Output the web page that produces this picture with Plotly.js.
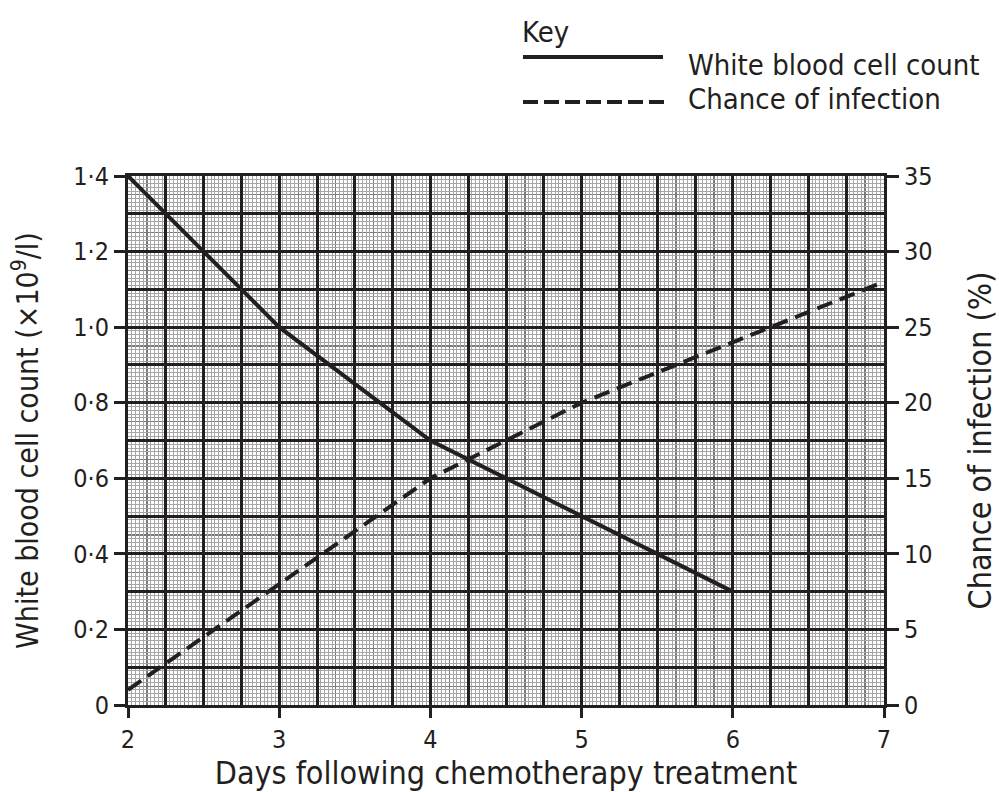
<!DOCTYPE html>
<html>
<head>
<meta charset="utf-8">
<script src="https://cdn.plot.ly/plotly-3.0.1.min.js"></script>
<style>html,body{margin:0;padding:0;background:#fff;}#chart{width:999px;height:792px;}</style>
</head>
<body>
<div id="chart"></div>
<script>
// Data
const days = [2, 3, 4, 5, 6];
const whiteBloodCellCount = [1.4, 1.0, 0.7, 0.5, 0.3];
const infectionDays = [2, 3, 4, 5, 6, 7];
const chanceOfInfection = [1, 8, 15, 20, 24, 28];

const xTickVals = [2, 3, 4, 5, 6, 7];
const xTickText = ['2', '3', '4', '5', '6', '7'];
const leftTickVals = [0, 0.2, 0.4, 0.6, 0.8, 1.0, 1.2, 1.4];
const leftTickText = ['0', '0·2', '0·4', '0·6', '0·8', '1·0', '1·2', '1·4'];
const rightTickVals = [0, 5, 10, 15, 20, 25, 30, 35];
const rightTickText = ['0', '5', '10', '15', '20', '25', '30', '35'];

const FONT = '"DejaVu Sans Condensed", "DejaVu Sans", sans-serif';
const INK = '#231f20';
const FINE = '#a6a6a6';
const MID = '#7a7a7a';

// fine graph-paper positions (every small square, skipping the 5-square lines)
const fineX = [];
for (let k = 0; k <= 200; k++) { if (k % 5 !== 0) fineX.push(2 + k / 40); }
const fineY = [];
for (let k = 0; k <= 140; k++) { if (k % 5 !== 0) fineY.push(k / 100); }

const traces = [
  {
    x: days, y: whiteBloodCellCount, xaxis: 'x', yaxis: 'y',
    type: 'scatter', mode: 'lines', name: 'White blood cell count',
    line: {color: INK, width: 4}, hoverinfo: 'skip'
  },
  {
    x: infectionDays, y: chanceOfInfection, xaxis: 'x', yaxis: 'y3',
    type: 'scatter', mode: 'lines', name: 'Chance of infection',
    line: {color: INK, width: 4, dash: '16px,8px'}, hoverinfo: 'skip'
  },
  // empty helper trace so the graph-paper axes get a subplot
  {x: [], y: [], xaxis: 'x2', yaxis: 'y2', type: 'scatter', mode: 'lines', hoverinfo: 'skip', showlegend: false}
];

const layout = {
  width: 999, height: 792,
  margin: {l: 128, r: 115, t: 176, b: 87},
  paper_bgcolor: '#fff', plot_bgcolor: '#fff',
  showlegend: false,
  font: {family: FONT, size: 25, color: INK},
  // labelled axes
  xaxis: {
    range: [2, 7], tickmode: 'array', tickvals: xTickVals, ticktext: xTickText,
    ticks: 'outside', ticklen: 10, tickwidth: 3, tickcolor: INK,
    showgrid: false, zeroline: false,
    showline: true, linewidth: 3, linecolor: INK, mirror: true,
    tickfont: {family: FONT, size: 25, color: INK},
    title: {text: 'Days following chemotherapy treatment', font: {family: FONT, size: 32, color: INK}, standoff: 4},
    minor: {tick0: 2, dtick: 0.125, ticks: '', showgrid: true, gridcolor: MID, gridwidth: 1.2}
  },
  yaxis: {
    range: [0, 1.4], tickmode: 'array', tickvals: leftTickVals, ticktext: leftTickText,
    ticks: 'outside', ticklen: 11, tickwidth: 3, tickcolor: INK,
    showgrid: false, zeroline: false,
    showline: true, linewidth: 3, linecolor: INK,
    tickfont: {family: FONT, size: 25, color: INK},
    title: {text: 'White blood cell count (×10<sup>9</sup>/l)', font: {family: FONT, size: 30, color: INK}, standoff: 26},
    minor: {tick0: 0, dtick: 0.05, ticks: '', showgrid: true, gridcolor: MID, gridwidth: 1.2}
  },
  yaxis3: {
    overlaying: 'y', anchor: 'x', side: 'right', range: [0, 35],
    tickmode: 'array', tickvals: rightTickVals, ticktext: rightTickText,
    ticks: 'outside', ticklen: 12, tickwidth: 3, tickcolor: INK,
    showgrid: false, zeroline: false,
    showline: true, linewidth: 3, linecolor: INK,
    tickfont: {family: FONT, size: 25, color: INK},
    title: {text: 'Chance of infection (%)', font: {family: FONT, size: 32, color: INK}, standoff: 39}
  },
  // graph-paper axes
  xaxis2: {
    overlaying: 'x', anchor: 'y2', range: [2, 7],
    tickmode: 'linear', tick0: 2, dtick: 0.25,
    showgrid: true, gridcolor: INK, gridwidth: 3,
    showticklabels: false, ticks: '', zeroline: false, showline: false,
    minor: {tickmode: 'array', tickvals: fineX, ticks: '', showgrid: true, gridcolor: FINE, gridwidth: 1}
  },
  yaxis2: {
    overlaying: 'y', anchor: 'x2', range: [0, 1.4],
    tickmode: 'linear', tick0: 0, dtick: 0.1,
    showgrid: true, gridcolor: INK, gridwidth: 3,
    showticklabels: false, ticks: '', zeroline: false, showline: false,
    minor: {tickmode: 'array', tickvals: fineY, ticks: '', showgrid: true, gridcolor: FINE, gridwidth: 1}
  },
  // Key drawn in paper space
  shapes: [
    {type: 'line', xref: 'paper', yref: 'paper', x0: (523-128)/756, x1: (663-128)/756, y0: (705-57)/529, y1: (705-57)/529,
     line: {color: INK, width: 4}},
    {type: 'line', xref: 'paper', yref: 'paper', x0: (523-128)/756, x1: (664-128)/756, y0: (705-102)/529, y1: (705-102)/529,
     line: {color: INK, width: 4, dash: '15px,6px'}}
  ],
  annotations: [
    {text: 'Key', xref: 'paper', yref: 'paper', x: (520-128)/756, y: (705-32)/529, xanchor: 'left', yanchor: 'middle', showarrow: false,
     font: {family: FONT, size: 29, color: INK}},
    {text: 'White blood cell count', xref: 'paper', yref: 'paper', x: (686-128)/756, y: (705-65)/529, xanchor: 'left', yanchor: 'middle', showarrow: false,
     font: {family: FONT, size: 29, color: INK}},
    {text: 'Chance of infection', xref: 'paper', yref: 'paper', x: (686-128)/756, y: (705-99)/529, xanchor: 'left', yanchor: 'middle', showarrow: false,
     font: {family: FONT, size: 29, color: INK}}
  ]
};

Plotly.newPlot('chart', traces, layout, {staticPlot: true, displayModeBar: false});
</script>
</body>
</html>
